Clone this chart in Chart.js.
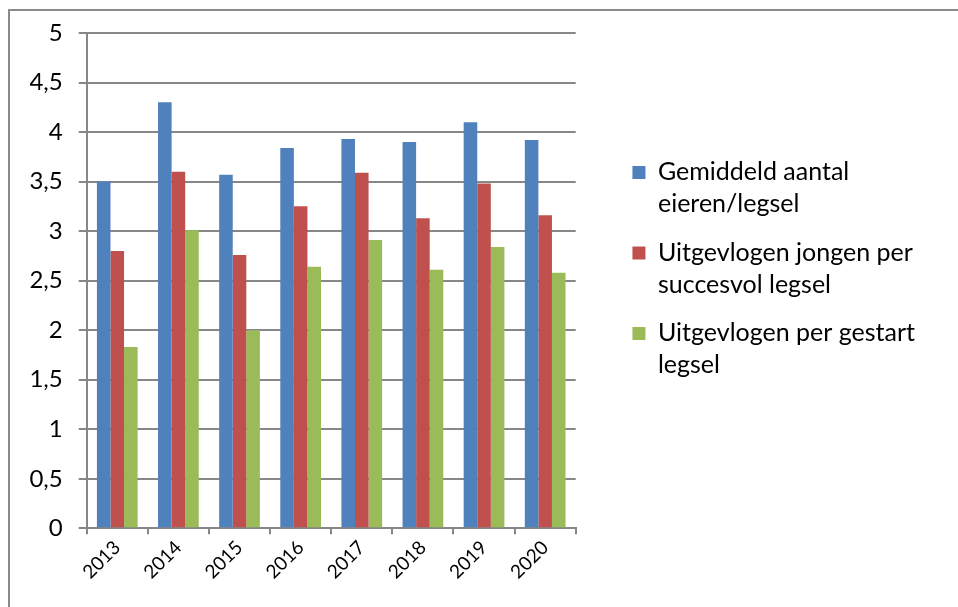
<!DOCTYPE html>
<html>
<head>
<meta charset="utf-8">
<script src="https://cdn.jsdelivr.net/npm/chart.js@4/dist/chart.umd.min.js"></script>
<style>
  html, body { margin: 0; padding: 0; background: #fff; }
  #wrap { position: relative; width: 958px; height: 607px; overflow: hidden; }
  #frame { position: absolute; left: 8px; top: 9px; width: 1000px; height: 700px;
           border-left: 2px solid #8a8a8a; border-top: 2px solid #8a8a8a; }
  canvas { position: absolute; left: 0; top: 0; }
</style>
</head>
<body>
<div id="wrap">
  <div id="frame"></div>
  <canvas id="grafiek" width="958" height="607"></canvas>
</div>
<script>
// jaren op de x-as
const jaren = ['2013', '2014', '2015', '2016', '2017', '2018', '2019', '2020'];

// reeksen
const eierenPerLegsel = [3.5, 4.3, 3.57, 3.84, 3.93, 3.9, 4.1, 3.92];
const jongenPerSuccesvol = [2.8, 3.6, 2.76, 3.25, 3.59, 3.13, 3.48, 3.16];
const jongenPerGestart = [1.83, 3.01, 2.0, 2.64, 2.91, 2.61, 2.84, 2.58];

const reeksNamen = ['Gemiddeld aantal eieren/legsel', 'Uitgevlogen jongen per succesvol legsel', 'Uitgevlogen per gestart legsel'];
const legendaRegels = [
  ['Gemiddeld aantal', 'eieren/legsel'],
  ['Uitgevlogen jongen per', 'succesvol legsel'],
  ['Uitgevlogen per gestart', 'legsel']
];
const yLabels = ['0', '0,5', '1', '1,5', '2', '2,5', '3', '3,5', '4', '4,5', '5'];

const kleuren = ['#4F81BD', '#C0504D', '#9BBB59'];
const lijnKleur = '#878787';
const lettertype = 'Lato, "Open Sans", sans-serif';

const reeksen = [eierenPerLegsel, jongenPerSuccesvol, jongenPerGestart];

new Chart(document.getElementById('grafiek'), {
  type: 'bar',
  data: {
    labels: jaren,
    datasets: reeksen.map((data, i) => ({
      label: reeksNamen[i],
      data: data,
      backgroundColor: kleuren[i],
      borderWidth: 0,
      categoryPercentage: 0.666,
      barPercentage: 1.0
    }))
  },
  options: {
    responsive: false,
    animation: false,
    devicePixelRatio: 1,
    layout: { padding: { top: 33, left: 0, right: 33, bottom: 0 } },
    plugins: {
      tooltip: { enabled: false },
      legend: {
        position: 'right',
        align: 'start',
        fullSize: false,
        maxWidth: 1000,
        title: { display: true, text: '', padding: { top: 96, bottom: 0 }, font: { size: 12 } },
        labels: {
          font: { family: lettertype, size: 25, lineHeight: 1.28 },
          color: '#000',
          boxWidth: 13,
          boxHeight: 13,
          padding: 16.5,
          generateLabels(chart) {
            return chart.data.datasets.map((ds, i) => ({
              text: legendaRegels[i],
              fillStyle: ds.backgroundColor,
              strokeStyle: ds.backgroundColor,
              fontColor: '#000',
              lineWidth: 0,
              datasetIndex: i
            }));
          }
        }
      }
    },
    scales: {
      x: {
        grid: { display: true, offset: true, drawOnChartArea: false, drawTicks: true, tickLength: 6, color: lijnKleur, lineWidth: 2 },
        border: { color: lijnKleur, width: 2 },
        ticks: {
          font: { family: lettertype, size: 19 },
          color: '#000',
          minRotation: 45,
          maxRotation: 45,
          padding: 2
        },
        afterFit(scale) { scale.height = 78.7; }
      },
      y: {
        min: 0,
        max: 5,
        grid: { color: lijnKleur, lineWidth: 2, tickLength: 8 },
        border: { color: lijnKleur, width: 2 },
        ticks: {
          stepSize: 0.5,
          font: { family: lettertype, size: 24 },
          color: '#000',
          padding: 16,
          callback: (v, i) => yLabels[i]
        },
        afterFit(scale) { scale.width = 86.7; }
      },
      ruimte: {
        type: 'linear',
        position: 'right',
        display: true,
        grid: { display: false },
        border: { display: false },
        ticks: { display: false },
        afterFit(scale) { scale.width = 40.2; }
      }
    }
  }
});
</script>
</body>
</html>
